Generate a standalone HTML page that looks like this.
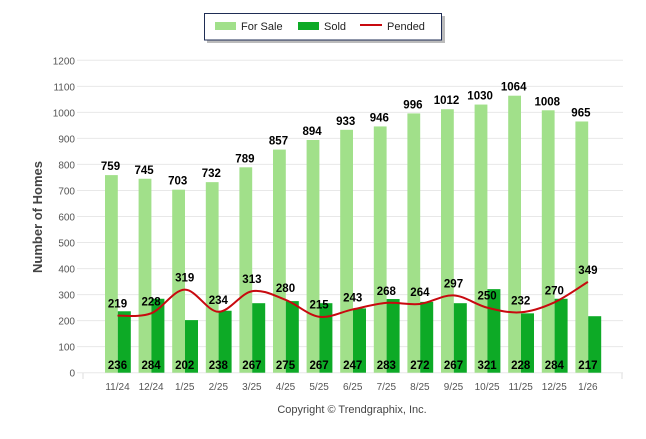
<!DOCTYPE html>
<html><head><meta charset="utf-8"><style>
body{margin:0;background:#fff;width:646px;height:434px;overflow:hidden;font-family:"Liberation Sans",Arial,sans-serif}
</style></head><body>
<svg id="chart" width="646" height="434" xmlns="http://www.w3.org/2000/svg" font-family="Liberation Sans, Arial, sans-serif"></svg>
<script>
const categories=["11/24","12/24","1/25","2/25","3/25","4/25","5/25","6/25","7/25","8/25","9/25","10/25","11/25","12/25","1/26"];
const forSale=[759,745,703,732,789,857,894,933,946,996,1012,1030,1064,1008,965];
const sold=[236,284,202,238,267,275,267,247,283,272,267,321,228,284,217];
const pended=[219,228,319,234,313,280,215,243,268,264,297,250,232,270,349];
const yTicks=[0,100,200,300,400,500,600,700,800,900,1000,1100,1200];
const NS="http://www.w3.org/2000/svg";
const svg=document.getElementById('chart');
const y0=372.7,pxPer=312.4/1200;
function y(v){return y0-v*pxPer;}
function cx(i){return 117.5+i*33.6;}
function mk(t,a,txt){const e=document.createElementNS(NS,t);for(const k in a)e.setAttribute(k,a[k]);if(txt!==undefined)e.textContent=txt;svg.appendChild(e);return e;}
// grid + y ticks
yTicks.forEach(v=>{
 const g=mk('line',{x1:77,x2:623,y1:y(v),y2:y(v),stroke:'#e8e8e8','stroke-width':1});
 
 
 const t=mk('text',{x:75,y:y(v)+4,'text-anchor':'end','font-size':10,fill:'#555'},v);
 
 
});
mk('line',{x1:83,x2:83,y1:373,y2:379,stroke:'#ddd'});
mk('line',{x1:622,x2:622,y1:373,y2:379,stroke:'#ddd'});
const yt=mk('text',{x:42,y:217,'text-anchor':'middle','font-size':13,'font-weight':'bold',fill:'#444',transform:'rotate(-90 42 217)'},'Number of Homes');


categories.forEach((c,i)=>{
 const x=cx(i);
 const b1=mk('rect',{x:x-12.5,y:y(forSale[i]),width:12.8,height:y0-y(forSale[i]),fill:'#a1e08a'});
 
 
 const b2=mk('rect',{x:x+0.3,y:y(sold[i]),width:13,height:y0-y(sold[i]),fill:'#0daa26'});
 
 
 const l1=mk('text',{x:x-7,y:y(forSale[i])-5,'text-anchor':'middle','font-size':11.5,'font-weight':'bold',fill:'#000'},forSale[i]);
 
 
 const l2=mk('text',{x:x,y:369,'text-anchor':'middle','font-size':11.5,'font-weight':'bold',fill:'#000'},sold[i]);
 
 
 const xl=mk('text',{x:x,y:390,'text-anchor':'middle','font-size':10,fill:'#555'},c);
 
 
});
// pended smooth line
const pts=pended.map((v,i)=>[cx(i),y(v)]);
let d='M'+pts[0][0]+','+pts[0][1];
for(let i=0;i<pts.length-1;i++){
 const p0=pts[Math.max(0,i-1)],p1=pts[i],p2=pts[i+1],p3=pts[Math.min(pts.length-1,i+2)];
 const t=0.5/3*2;
 const c1=[p1[0]+(p2[0]-p0[0])/6,p1[1]+(p2[1]-p0[1])/6];
 const c2=[p2[0]-(p3[0]-p1[0])/6,p2[1]-(p3[1]-p1[1])/6];
 d+=` C${c1[0]},${c1[1]} ${c2[0]},${c2[1]} ${p2[0]},${p2[1]}`;
}
const pl=mk('path',{d:d,fill:'none',stroke:'#c8090f','stroke-width':2});


pended.forEach((v,i)=>{
 const t=mk('text',{x:cx(i),y:y(v)-8,'text-anchor':'middle','font-size':11.5,'font-weight':'bold',fill:'#000'},v);
 
 
});
// legend
const lg=document.createElementNS(NS,'g');svg.appendChild(lg);


mk('rect',{x:207,y:16,width:238,height:27,fill:'#bbb'});
mk('rect',{x:204.5,y:13.5,width:237,height:26.5,fill:'#fff',stroke:'#1f2d55','stroke-width':1});
mk('rect',{x:215,y:22,width:21,height:8,fill:'#a1e08a'});
const e1=mk('text',{x:241,y:30,'font-size':11,fill:'#222'},'For Sale');


mk('rect',{x:298,y:22,width:21,height:8,fill:'#0daa26'});
const e2=mk('text',{x:324,y:30,'font-size':11,fill:'#222'},'Sold');


mk('line',{x1:360,x2:382,y1:25,y2:25,stroke:'#c8090f','stroke-width':2});
const e3=mk('text',{x:387,y:30,'font-size':11,fill:'#222'},'Pended');


const cp=mk('text',{x:352,y:413,'text-anchor':'middle','font-size':11,fill:'#444'},'Copyright \u00A9 Trendgraphix, Inc.');


</script>
</body></html>
